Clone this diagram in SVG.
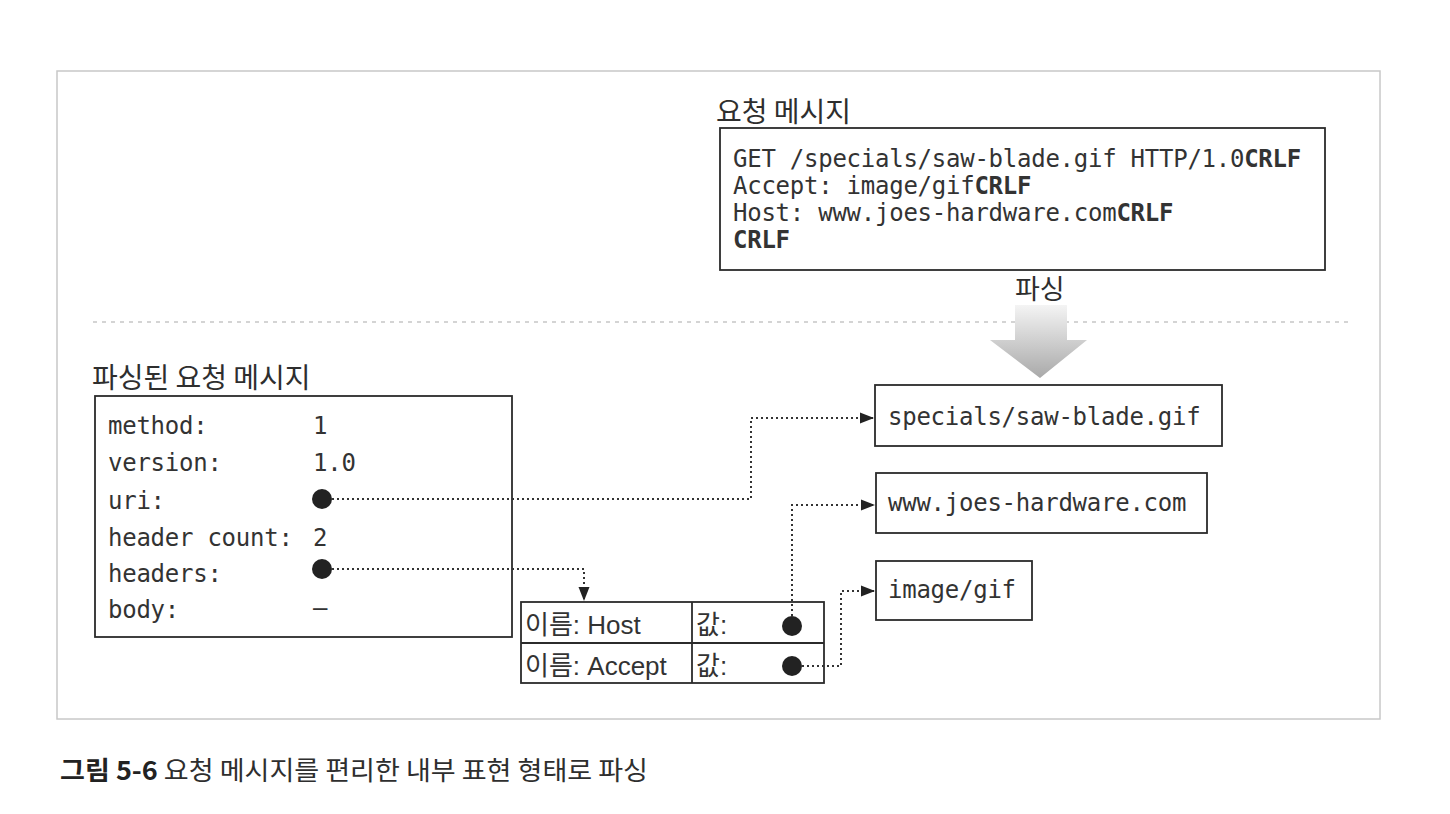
<svg xmlns="http://www.w3.org/2000/svg" width="1450" height="814" viewBox="0 0 1450 814">
<defs>
<style>
.kr{font-family:"Noto Sans CJK KR","Noto Sans",sans-serif;fill:#2e2e2e;}
.mono{font-family:"DejaVu Sans Mono","Liberation Mono",monospace;font-size:24px;letter-spacing:-0.25px;fill:#333;}
.b{font-weight:bold;}
.box{fill:#fff;stroke:#2b2b2b;stroke-width:1.8;}
.tbl{font-family:"Liberation Sans","Noto Sans CJK KR",sans-serif;font-size:26px;fill:#333;}
.conn{fill:none;stroke:#333;stroke-width:2;stroke-dasharray:2 3;}
.dot{fill:#222;}
</style>
<marker id="arr" markerUnits="userSpaceOnUse" markerWidth="14" markerHeight="12" refX="13" refY="6" orient="auto">
<path d="M0,0.5 L14,6 L0,11.5 z" fill="#222"/>
</marker>
<linearGradient id="g" x1="0" y1="0" x2="0" y2="1">
<stop offset="0" stop-color="#f4f4f4"/>
<stop offset="1" stop-color="#a9a9a9"/>
</linearGradient>
</defs>
<rect width="1450" height="814" fill="#fff"/>
<rect x="57" y="71" width="1323" height="648" fill="none" stroke="#c8c8c8" stroke-width="1.5"/>
<line x1="93" y1="322" x2="1352" y2="322" stroke="#c6c6c6" stroke-width="1.5" stroke-dasharray="4 5"/>

<g id="request">
<text class="kr" x="716" y="122" font-size="28">요청 메시지</text>
<rect class="box" x="720" y="128" width="605" height="142"/>
<text class="mono" x="733" y="167">GET /specials/saw-blade.gif HTTP/1.0<tspan class="b">CRLF</tspan></text>
<text class="mono" x="733" y="194">Accept: image/gif<tspan class="b">CRLF</tspan></text>
<text class="mono" x="733" y="221">Host: www.joes-hardware.com<tspan class="b">CRLF</tspan></text>
<text class="mono b" x="733" y="248">CRLF</text>
</g>

<g id="parse-arrow">
<text class="kr" x="1015" y="299" font-size="27">파싱</text>
<path d="M1015,305 L1067,305 L1067,340 L1087,340 L1040,378 L990,340 L1015,340 z" fill="url(#g)"/>
</g>

<g id="parsed">
<text class="kr" x="92" y="388" font-size="28">파싱된 요청 메시지</text>
<rect class="box" x="95" y="396" width="417" height="241"/>
<text class="mono" x="108" y="434">method:</text>
<text class="mono" x="313" y="434">1</text>
<text class="mono" x="108" y="471">version:</text>
<text class="mono" x="313" y="471">1.0</text>
<text class="mono" x="108" y="509">uri:</text>
<text class="mono" x="108" y="546">header count:</text>
<text class="mono" x="313" y="546">2</text>
<text class="mono" x="108" y="582">headers:</text>
<text class="mono" x="108" y="618">body:</text>
<text class="mono" x="313" y="616">–</text>
<circle class="dot" cx="322" cy="499" r="10"/>
<circle class="dot" cx="322" cy="569" r="10"/>
</g>

<g id="uri-value">
<rect class="box" x="875" y="385" width="347" height="61"/>
<text class="mono" x="888" y="425">specials/saw-blade.gif</text>
</g>
<g id="host-value">
<rect class="box" x="876" y="473" width="331" height="60"/>
<text class="mono" x="888" y="511">www.joes-hardware.com</text>
</g>
<g id="accept-value">
<rect class="box" x="876" y="561" width="156" height="59"/>
<text class="mono" x="888" y="598">image/gif</text>
</g>

<g id="headers-table">
<rect class="box" x="521" y="602" width="303" height="81"/>
<line x1="521" y1="643" x2="824" y2="643" stroke="#2b2b2b" stroke-width="1.8"/>
<line x1="692" y1="602" x2="692" y2="683" stroke="#2b2b2b" stroke-width="1.8"/>
<text class="tbl" x="525" y="634">이름: Host</text>
<text class="tbl" x="525" y="675">이름: Accept</text>
<text class="tbl" x="696" y="634">값:</text>
<text class="tbl" x="696" y="675">값:</text>
<circle class="dot" cx="792" cy="626" r="10"/>
<circle class="dot" cx="792" cy="666" r="10"/>
</g>

<g id="connectors">
<path class="conn" d="M332,499 H751 V418 H873" marker-end="url(#arr)"/>
<path class="conn" d="M332,569 H584 V600" marker-end="url(#arr)"/>
<path class="conn" d="M792,616 V505 H874" marker-end="url(#arr)"/>
<path class="conn" d="M802,666 H841 V591 H874" marker-end="url(#arr)"/>
</g>

<g id="caption">
<text class="kr" x="60" y="780" font-size="26" textLength="588" lengthAdjust="spacingAndGlyphs"><tspan font-weight="bold" fill="#222">그림 5-6</tspan> 요청 메시지를 편리한 내부 표현 형태로 파싱</text>
</g>
</svg>
